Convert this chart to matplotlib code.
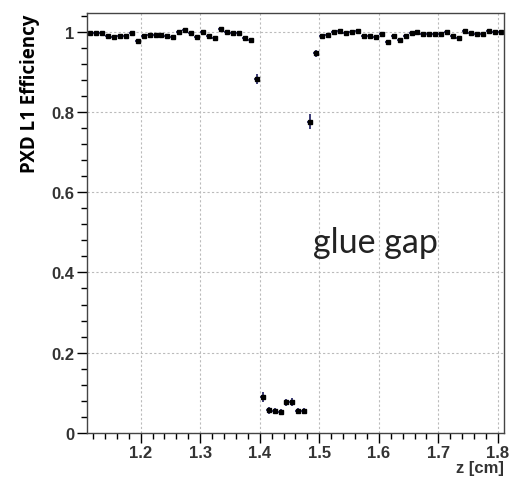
import numpy as np
import matplotlib
matplotlib.use("Agg")
import matplotlib.pyplot as plt
from matplotlib.ticker import AutoMinorLocator

# bin centers of the z histogram (0.01 cm bins from 1.11 to 1.81)
z_bins = np.round(np.arange(1.115, 1.81, 0.01), 3)

efficiency = [
    0.998, 0.997, 0.998, 0.990, 0.988, 0.990, 0.989, 0.996, 0.977, 0.990,
    0.992, 0.993, 0.992, 0.990, 0.988, 1.000, 1.005, 0.996, 0.986, 1.000,
    0.990, 0.984, 1.006, 0.999, 0.998, 0.996, 0.984, 0.979, 0.882, 0.090,
    0.056, 0.055, 0.052, 0.076, 0.077, 0.055, 0.055, 0.776, 0.946, 0.990,
    0.993, 1.000, 1.003, 0.996, 1.000, 1.002, 0.990, 0.989, 0.986, 0.994,
    0.975, 0.990, 0.980, 0.990, 0.996, 1.000, 0.995, 0.994, 0.995, 0.994,
    1.000, 0.990, 0.984, 1.003, 0.997, 0.994, 0.994, 1.002, 0.999, 0.999,
]

eff_err = [0.004] * 28 + [0.012, 0.012, 0.008, 0.008, 0.008, 0.009, 0.009,
                          0.008, 0.008, 0.018, 0.008] + [0.004] * 31

x_ticks = [1.2, 1.3, 1.4, 1.5, 1.6, 1.7, 1.8]
y_ticks = [0, 0.2, 0.4, 0.6, 0.8, 1]

fig = plt.figure(figsize=(5.12, 4.81), dpi=100)
ax = fig.add_axes([0.170, 0.098, 0.814, 0.873])

ax.errorbar(z_bins, efficiency, yerr=eff_err, xerr=0.005, fmt='s',
            color='black', ms=3.5, mec='black', ecolor='#1a1a5e',
            elinewidth=1.2, capsize=0)

ax.set_xlim(1.11, 1.81)
ax.set_ylim(0, 1.047)
ax.set_xticks(x_ticks)
ax.set_yticks(y_ticks)
ax.set_xticklabels([f'{t:.1f}' for t in x_ticks])
ax.set_yticklabels(['0', '0.2', '0.4', '0.6', '0.8', '1'])
ax.xaxis.set_minor_locator(AutoMinorLocator(5))
ax.yaxis.set_minor_locator(AutoMinorLocator(5))
ax.tick_params(which='major', direction='out', length=7, width=1,
               labelsize=12, colors='black', pad=2)
ax.tick_params(which='minor', direction='out', length=4, width=1)
for lbl in ax.get_xticklabels() + ax.get_yticklabels():
    lbl.set_fontweight('bold')
    lbl.set_family('Liberation Sans')
    lbl.set_color('#333333')

ax.grid(True, which='major', linestyle=(0, (2, 2)), color='#bbbbbb', lw=0.8)
for s in ax.spines.values():
    s.set_linewidth(1.0)
    s.set_color('#444444')

fig.text(0.058, 0.97, 'PXD L1 Efficiency', rotation=90, ha='center', va='top',
         fontsize=13.5, fontweight='bold', family='Open Sans')
fig.text(0.984, 0.027, 'z [cm]', ha='right', va='center', fontsize=12,
         fontweight='bold', family='Liberation Sans', color='#333333')

ax.text(1.49, 0.476, 'glue gap', fontsize=24.5, va='center', ha='left',
        family='Lato', color='#222222')

fig.savefig('out.png', dpi=100)
